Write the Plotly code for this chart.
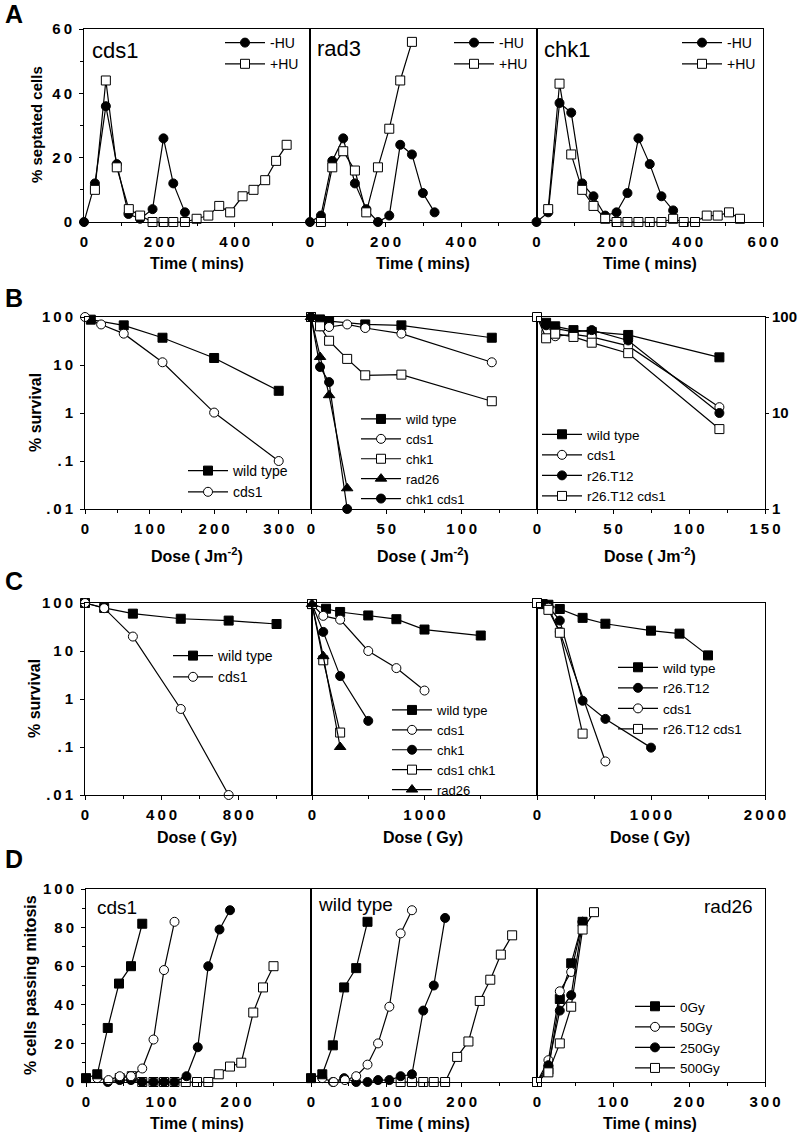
import plotly.graph_objects as go

W, H = 800, 1137

# ---------------- Panel A : % septated cells vs time ----------------
a_cds1_minus_t = [0, 29, 58, 87, 118, 149, 182, 211, 237, 268]
a_cds1_minus = [0, 12, 36, 18, 2.5, 1, 4, 26, 12, 3]
a_cds1_plus_t = [29, 58, 87, 119, 149, 182, 211, 237, 268, 299, 330, 359, 388, 421, 450, 481, 510, 538]
a_cds1_plus = [10, 44, 17, 4, 2, 0, 0, 0, 0, 1, 2, 5, 3, 8, 10, 13, 19, 24]

a_rad3_minus_t = [0, 29, 59, 88, 119, 149, 180, 210, 239, 270, 299, 330]
a_rad3_minus = [0, 2, 19, 26, 12, 4, 0, 2, 24, 21, 9, 3]
a_rad3_plus_t = [29, 59, 88, 119, 149, 180, 210, 239, 270]
a_rad3_plus = [0, 17, 22, 16, 3, 17, 29, 44, 56]

a_chk1_minus_t = [0, 31, 61, 92, 121, 151, 182, 212, 241, 270, 300, 331, 362]
a_chk1_minus = [0, 3, 37, 34, 12, 8, 2, 3, 9, 26, 18, 8, 3.6]
a_chk1_plus_t = [31, 61, 92, 121, 151, 182, 212, 241, 270, 300, 331, 362, 390, 420, 451, 480, 510, 539]
a_chk1_plus = [4, 43, 21, 10, 5, 1, 0, 0, 0, 0, 0, 1, 0, 0, 2, 2, 3, 1]

# ---------------- Panel B : UV survival ----------------
b1_wt_dose = [9, 60, 120, 200, 300]
b1_wt = [88, 67, 37, 14, 2.9]
b1_cds1_dose = [0, 25, 60, 120, 200, 300]
b1_cds1 = [100, 70, 45, 11.4, 1.02, 0.1]

b2_wt_dose = [0, 6, 12, 36, 60, 120]
b2_wt = [100, 89, 82, 70, 67, 37]
b2_cds1_dose = [0, 6, 12, 24, 36, 60, 120]
b2_cds1 = [100, 64, 62, 70, 59, 45, 11.4]
b2_chk1_dose = [0, 6, 12, 24, 36, 60, 120]
b2_chk1 = [100, 64, 32, 13.4, 6.1, 6.3, 1.76]
b2_rad26_dose = [0, 6, 12, 24]
b2_rad26 = [100, 14.7, 2.35, 0.027]
b2_chk1cds1_dose = [0, 6, 12, 24]
b2_chk1cds1 = [100, 9.1, 4.4, 0.01]

b3_wt_dose = [6, 12, 24, 36, 60, 120]
b3_wt = [87, 80, 73, 70, 65, 38]
b3_cds1_dose = [0, 6, 12, 24, 36, 60, 120]
b3_cds1 = [100, 70, 63, 66, 62, 50, 11.5]
b3_r26_dose = [0, 6, 12, 24, 36, 60, 120]
b3_r26 = [100, 82, 76, 70, 73, 57, 10]
b3_r26cds1_dose = [0, 6, 12, 24, 36, 60, 120]
b3_r26cds1 = [100, 60, 67, 62, 54, 42, 6.8]

# ---------------- Panel C : IR survival ----------------
c1_wt_dose = [0, 100, 250, 500, 750, 1000]
c1_wt = [100, 79, 60, 47, 43, 36.5]
c1_cds1_dose = [0, 100, 250, 500, 750]
c1_cds1 = [100, 78, 20, 0.62, 0.01]

c2_wt_dose = [0, 125, 250, 500, 750, 1000, 1500]
c2_wt = [95, 76, 65, 55, 46, 28, 21]
c2_cds1_dose = [0, 100, 250, 500, 750, 1000]
c2_cds1 = [95, 54, 45, 10, 4.4, 1.5]
c2_chk1_dose = [0, 100, 250, 500]
c2_chk1 = [95, 25, 3, 0.35]
c2_cds1chk1_dose = [0, 100, 250]
c2_cds1chk1 = [95, 6.4, 0.2]
c2_rad26_dose = [0, 100, 250]
c2_rad26 = [95, 7.8, 0.1]

c3_wt_dose = [0, 50, 100, 200, 400, 600, 1000, 1250, 1500]
c3_wt = [100, 95, 92, 75, 49, 37, 26.5, 23, 8.1]
c3_r26_dose = [0, 100, 200, 400, 600, 1000]
c3_r26 = [100, 85, 43, 0.92, 0.385, 0.097]
c3_cds1_dose = [0, 100, 200, 600]
c3_cds1 = [100, 80, 25, 0.05]
c3_r26cds1_dose = [0, 100, 200, 400]
c3_r26cds1 = [100, 72, 24, 0.19]

# ---------------- Panel D : % cells passing mitosis ----------------
d1_0_t = [0, 15, 29, 44, 60, 75]
d1_0 = [2, 4, 28, 51, 60, 82]
d1_50_t = [15, 30, 45, 60, 75, 90, 104, 118]
d1_50 = [2, 1, 3, 3, 7, 22, 58, 83]
d1_250_t = [29, 45, 60, 75, 90, 104, 118, 134, 149, 163, 178, 192]
d1_250 = [0, 1, 1, 0, 0, 0, 0, 3, 18, 60, 79, 89]
d1_500_t = [45, 61, 75, 90, 104, 118, 133, 148, 163, 177, 192, 207, 223, 236, 250]
d1_500 = [2, 3, 0, 0, 0, 0, 0, 0, 0, 4, 8, 10, 36, 49, 60]

d2_0_t = [0, 15, 29, 44, 60, 75]
d2_0 = [2, 4, 19, 49, 59, 83]
d2_50_t = [15, 30, 45, 60, 75, 89, 104, 119, 134]
d2_50 = [2, 0, 1, 3, 9, 20, 39, 77, 89]
d2_250_t = [29, 44, 60, 75, 89, 104, 119, 134, 149, 163, 178]
d2_250 = [0, 2, 0, 0, 1, 1, 3, 4, 37, 50, 85]
d2_500_t = [119, 134, 149, 163, 178, 194, 209, 224, 238, 252, 267]
d2_500 = [0, 0, 0, 0, 0, 13, 21, 42, 53, 66, 76]

d3_0_t = [0, 15, 30, 45, 60]
d3_0 = [0, 6.4, 43, 61.5, 83]
d3_50_t = [0, 15, 30, 45, 60]
d3_50 = [0, 11.3, 47, 57, 83]
d3_250_t = [0, 15, 30, 45, 60]
d3_250 = [0, 8.7, 37, 45, 83]
d3_500_t = [0, 15, 30, 45, 60, 75]
d3_500 = [0, 5, 20, 39, 79, 88]

# ---------------- tick labels ----------------
a_x_ticks = [0, 200, 400]
a_x_ticks_last = [0, 200, 400, 600]
a_y_ticks = [0, 20, 40, 60]
log_ticks = [0.01, 0.1, 1, 10, 100]
log_tick_labels = [".01", ".1", "1", "10", "100"]
b3_ticks = [1, 10, 100]
b3_tick_labels = ["1", "10", "100"]
b1_x_ticks = [0, 100, 200, 300]
b2_x_ticks = [0, 50, 100]
b3_x_ticks = [0, 50, 100, 150]
c1_x_ticks = [0, 400, 800]
c2_x_ticks = [0, 1000]
c3_x_ticks = [0, 1000, 2000]
d_x_ticks = [0, 100, 200]
d_x_ticks_last = [0, 100, 200, 300]
d_y_ticks = [0, 20, 40, 60, 80, 100]

# ---------------- layout geometry (pixels) ----------------
COLS = {
    0: [(84, 310), (310, 536.5), (536.5, 763)],
    1: [(85, 311), (311, 537), (537, 765)],
    2: [(85, 312), (312, 537), (537, 765)],
    3: [(86, 311), (311, 537), (537, 765)],
}
ROWS = {0: (29, 222), 1: (317, 509), 2: (603, 795), 3: (889, 1082)}

FONT = "Liberation Sans"
TICKFONT = dict(family=FONT, size=15, color="black", weight="bold")


def spaced(s):
    return "\u2009".join(str(s))


def names(idx):
    s = "" if idx == 1 else str(idx)
    return "x" + s, "y" + s, "xaxis" + s, "yaxis" + s


SYM = {"fsq": "square", "osq": "square", "fci": "circle", "oci": "circle", "ftr": "triangle-up"}
FILL = {"fsq": "black", "osq": "white", "fci": "black", "oci": "white", "ftr": "black"}

fig = go.Figure()


def add(idx, x, y, name, sty, leg=None):
    xn, yn, _, _ = names(idx)
    fig.add_trace(go.Scatter(
        x=x, y=y, name=name, mode="lines+markers",
        line=dict(color="black", width=1.2),
        marker=dict(size=10 if sty == "ftr" else 9, symbol=SYM[sty], color=FILL[sty],
                    line=dict(color="black", width=1)),
        xaxis=xn, yaxis=yn, cliponaxis=False,
        showlegend=leg is not None, legend=leg if leg else "legend",
    ))


# Panel A
add(1, a_cds1_minus_t, a_cds1_minus, "-HU", "fci", "legend")
add(1, a_cds1_plus_t, a_cds1_plus, "+HU", "osq", "legend")
add(2, a_rad3_minus_t, a_rad3_minus, "-HU", "fci", "legend2")
add(2, a_rad3_plus_t, a_rad3_plus, "+HU", "osq", "legend2")
add(3, a_chk1_minus_t, a_chk1_minus, "-HU", "fci", "legend3")
add(3, a_chk1_plus_t, a_chk1_plus, "+HU", "osq", "legend3")

# Panel B
add(4, b1_wt_dose, b1_wt, "wild type", "fsq", "legend4")
add(4, b1_cds1_dose, b1_cds1, "cds1", "oci", "legend4")
add(5, b2_wt_dose, b2_wt, "wild type", "fsq", "legend5")
add(5, b2_cds1_dose, b2_cds1, "cds1", "oci", "legend5")
add(5, b2_chk1_dose, b2_chk1, "chk1", "osq", "legend5")
add(5, b2_rad26_dose, b2_rad26, "rad26", "ftr", "legend5")
add(5, b2_chk1cds1_dose, b2_chk1cds1, "chk1 cds1", "fci", "legend5")
add(6, b3_wt_dose, b3_wt, "wild type", "fsq", "legend6")
add(6, b3_cds1_dose, b3_cds1, "cds1", "oci", "legend6")
add(6, b3_r26_dose, b3_r26, "r26.T12", "fci", "legend6")
add(6, b3_r26cds1_dose, b3_r26cds1, "r26.T12 cds1", "osq", "legend6")

# Panel C
add(7, c1_wt_dose, c1_wt, "wild type", "fsq", "legend7")
add(7, c1_cds1_dose, c1_cds1, "cds1", "oci", "legend7")
add(8, c2_wt_dose, c2_wt, "wild type", "fsq", "legend8")
add(8, c2_cds1_dose, c2_cds1, "cds1", "oci", "legend8")
add(8, c2_chk1_dose, c2_chk1, "chk1", "fci", "legend8")
add(8, c2_cds1chk1_dose, c2_cds1chk1, "cds1 chk1", "osq", "legend8")
add(8, c2_rad26_dose, c2_rad26, "rad26", "ftr", "legend8")
add(9, c3_wt_dose, c3_wt, "wild type", "fsq", "legend9")
add(9, c3_r26_dose, c3_r26, "r26.T12", "fci", "legend9")
add(9, c3_cds1_dose, c3_cds1, "cds1", "oci", "legend9")
add(9, c3_r26cds1_dose, c3_r26cds1, "r26.T12 cds1", "osq", "legend9")

# Panel D
add(10, d1_500_t, d1_500, "500Gy", "osq")
add(10, d1_250_t, d1_250, "250Gy", "fci")
add(10, d1_50_t, d1_50, "50Gy", "oci")
add(10, d1_0_t, d1_0, "0Gy", "fsq")
add(11, d2_500_t, d2_500, "500Gy", "osq")
add(11, d2_250_t, d2_250, "250Gy", "fci")
add(11, d2_50_t, d2_50, "50Gy", "oci")
add(11, d2_0_t, d2_0, "0Gy", "fsq")
add(12, d3_0_t, d3_0, "0Gy", "fsq", "legend10")
add(12, d3_50_t, d3_50, "50Gy", "oci", "legend10")
add(12, d3_250_t, d3_250, "250Gy", "fci", "legend10")
add(12, d3_500_t, d3_500, "500Gy", "osq", "legend10")

layout = dict(
    width=W, height=H, margin=dict(l=0, r=0, t=0, b=0),
    paper_bgcolor="white", plot_bgcolor="white", showlegend=True,
    template="none",
)


def base_axis():
    return dict(showline=True, mirror=True, linecolor="black", linewidth=1,
                showgrid=False, zeroline=False, ticks="outside", ticklen=4,
                tickcolor="black", tickwidth=1, tickfont=TICKFONT, automargin=False)


def set_axes(idx, r, c, xr, xt, xminor, yr, yt=None, ylbl=None, yminor=None,
             ylog=False, yside="left", show_y=False):
    xn, yn, xk, yk = names(idx)
    x0, x1 = COLS[r][c]
    y0, y1 = ROWS[r]
    xa = base_axis()
    xa.update(domain=[x0 / W, x1 / W], range=xr, anchor=yn, tickmode="array",
              tickvals=xt, ticktext=[spaced(v) for v in xt], ticklabelstandoff=2,
              minor=dict(tickmode="array", tickvals=xminor, ticks="outside",
                         ticklen=3, tickcolor="black"))
    ya = base_axis()
    ya.update(domain=[1 - y1 / H, 1 - y0 / H], range=yr, anchor=xn, side=yside)
    if ylog:
        ya["type"] = "log"
    if show_y:
        if yside == "right":
            ya.update(tickmode="array", tickvals=yt,
                      ticktext=list(ylbl), ticklabelstandoff=0, ticklen=3)
        else:
            ya.update(tickmode="array", tickvals=yt,
                      ticktext=[spaced(v) for v in (ylbl if ylbl else yt)],
                      ticklabelstandoff=4)
        if yminor:
            ya["minor"] = dict(tickmode="array", tickvals=yminor, ticks="outside",
                               ticklen=3, tickcolor="black")
    else:
        ya.update(ticks="", showticklabels=False)
    layout[xk] = xa
    layout[yk] = ya


# Row A
set_axes(1, 0, 0, [0, 600], a_x_ticks, [100, 300, 500], [0, 60], a_y_ticks, None, [10, 30, 50], show_y=True)
set_axes(2, 0, 1, [0, 600], a_x_ticks, [100, 300, 500], [0, 60])
set_axes(3, 0, 2, [0, 600], a_x_ticks_last, [100, 300, 500], [0, 60])
# Row B
set_axes(4, 1, 0, [0, 350], b1_x_ticks, [50, 150, 250], [-2, 2], log_ticks, log_tick_labels, ylog=True, show_y=True)
set_axes(5, 1, 1, [0, 150], b2_x_ticks, [25, 75, 125], [-2, 2], ylog=True)
set_axes(6, 1, 2, [0, 150], b3_x_ticks, [25, 75, 125], [0, 2], b3_ticks, b3_tick_labels,
         ylog=True, yside="right", show_y=True)
# Row C
set_axes(7, 2, 0, [0, 1185], c1_x_ticks, [200, 600, 1000], [-2, 2], log_ticks, log_tick_labels, ylog=True, show_y=True)
set_axes(8, 2, 1, [0, 2000], c2_x_ticks, [500, 1500], [-2, 2], ylog=True)
set_axes(9, 2, 2, [0, 2000], c3_x_ticks, [500, 1500], [-2, 2], ylog=True)
# Row D
set_axes(10, 3, 0, [0, 300], d_x_ticks, [50, 150, 250], [0, 100], d_y_ticks, None, [10, 30, 50, 70, 90], show_y=True)
set_axes(11, 3, 1, [0, 300], d_x_ticks, [50, 150, 250], [0, 100])
set_axes(12, 3, 2, [0, 300], d_x_ticks_last, [50, 150, 250], [0, 100])


# Legends (symbol centre x, top y, font size)
def legend_cfg(sym_x, top, size):
    return dict(x=(sym_x - 25) / W, y=1 - top / H, xanchor="left", yanchor="top",
                bgcolor="rgba(0,0,0,0)", borderwidth=0, itemwidth=40,
                tracegroupgap=0, traceorder="normal",
                font=dict(family=FONT, size=size, color="black"))


layout["legend"] = legend_cfg(245, 27, 14)
layout["legend2"] = legend_cfg(474, 27, 14)
layout["legend3"] = legend_cfg(702, 27, 14)
layout["legend4"] = legend_cfg(208, 455, 14)
layout["legend5"] = legend_cfg(381, 404, 13)
layout["legend6"] = legend_cfg(562, 419, 13.5)
layout["legend7"] = legend_cfg(193, 640, 14)
layout["legend8"] = legend_cfg(412, 695, 13)
layout["legend9"] = legend_cfg(638, 652, 13.5)
layout["legend10"] = legend_cfg(655, 991, 13.5)

# Annotations: panel letters, panel names, axis titles
ann = []


def text(x, y, s, size, bold=False, xanchor="center", angle=0):
    ann.append(dict(x=x / W, y=1 - y / H, xref="paper", yref="paper", text=s,
                    showarrow=False, xanchor=xanchor, yanchor="middle",
                    textangle=angle,
                    font=dict(family=FONT, size=size, color="black",
                              weight="bold" if bold else "normal")))


for letter, yy in [("A", 14), ("B", 298), ("C", 581), ("D", 859)]:
    text(3, yy, letter, 25, bold=True, xanchor="left")

text(90, 51, "cds1", 22, xanchor="left")
text(315, 48, "rad3", 22, xanchor="left")
text(542, 50, "chk1", 22, xanchor="left")
text(95, 907, "cds1", 19, xanchor="left")
text(316, 904, "wild type", 19, xanchor="left")
text(755, 906, "rad26", 19, xanchor="right")

col_centres = [197, 423, 650]
for cx in col_centres:
    text(cx, 263, "Time ( mins)", 16, bold=True)
    text(cx, 555, "Dose ( Jm<sup>-2</sup>)", 16, bold=True)
    text(cx, 837, "Dose ( Gy)", 16, bold=True)
    text(cx, 1123, "Time ( mins)", 16, bold=True)

text(36, 125, "% septated cells", 15, bold=True, angle=-90)
text(35, 413, "% survival", 16, bold=True, angle=-90)
text(34, 699, "% survival", 16, bold=True, angle=-90)
text(30, 985, "% cells passing mitosis", 16, bold=True, angle=-90)

layout["annotations"] = ann
fig.update_layout(**layout)
fig.write_html("out.html", config={"displayModeBar": False},
               post_script="document.body.style.margin='0';document.body.style.overflow='hidden';")
